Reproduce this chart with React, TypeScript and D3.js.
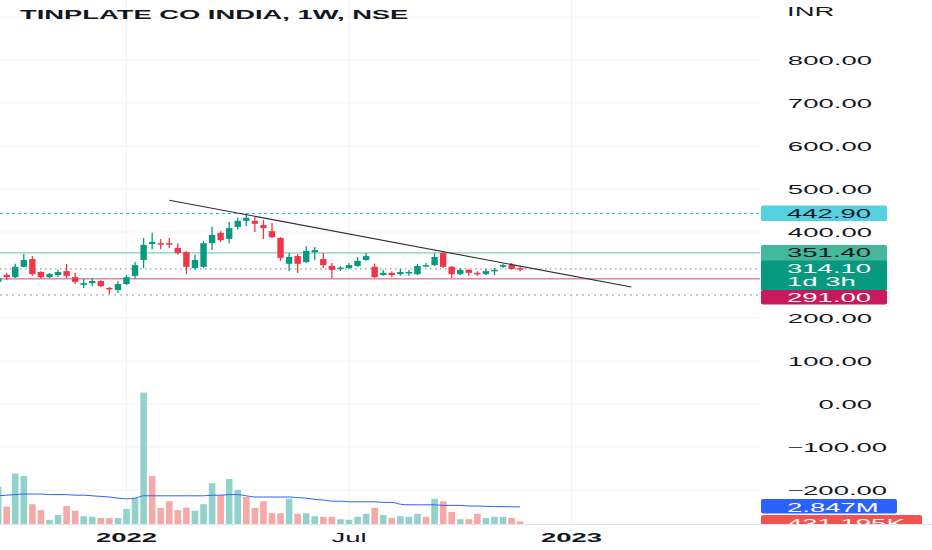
import React from 'react';
import * as d3 from 'd3';

const W = 932;
const H = 550;

// weekly bars, Mon 20 Sep 2021 .. Mon 21 Nov 2022
const weeks = d3.timeMonday.range(new Date(2021, 8, 20), new Date(2022, 10, 22));

const opens = [
  284, 300, 295, 319, 337, 307, 295, 300, 309, 295, 277, 281, 286, 270, 265,
  279, 298, 335, 372, 374, 374, 363, 353, 316, 319, 374, 398, 384, 412, 426,
  426, 416, 402, 386, 326, 344, 330, 353, 337, 321, 315, 316, 321, 335, 319,
  300, 305, 302, 305, 302, 321, 323, 351, 319, 302, 312, 305, 302, 309, 319,
  323, 316,
];
const highs = [
  298, 305, 326, 349, 344, 309, 305, 312, 326, 305, 291, 293, 288, 272, 286,
  300, 330, 386, 398, 384, 386, 374, 356, 347, 379, 412, 402, 423, 433, 442.9,
  435, 428, 421, 388, 351, 349, 367, 365, 351, 328, 321, 328, 342, 351, 326,
  312, 309, 314, 312, 326, 328, 351, 353, 321, 316, 314, 309, 314, 316, 326,
  328, 320,
];
const lows = [
  280, 288, 293, 318, 298, 291, 293, 295, 293, 279, 270, 274, 272, 256, 258,
  277, 291, 316, 360, 360, 363, 347, 302, 312, 316, 358, 377, 374, 405, 414,
  400, 384, 386, 333, 309, 305, 328, 335, 316, 293, 309, 314, 319, 333, 293,
  298, 295, 298, 298, 300, 319, 321, 316, 293, 300, 298, 298, 300, 300, 316,
  312, 309,
];
const closes = [
  293, 295, 319, 335, 302, 295, 302, 307, 298, 284, 281, 286, 274, 267, 279,
  295, 323, 370, 377, 372, 372, 351, 319, 335, 374, 393, 381, 409, 426, 433,
  419, 409, 388, 340, 342, 326, 356, 358, 323, 312, 317, 323, 333, 344, 295,
  305, 300, 307, 307, 321, 323, 342, 319, 302, 312, 305, 302, 309, 312, 323,
  314, 314.1,
];

// volume in millions
const volumes = [
  6.2, 2.9, 8.4, 8.0, 3.3, 2.3, 0.7, 1.5, 3.0, 2.2, 1.3, 1.2, 1.0, 1.0, 1.0,
  2.5, 4.3, 21.9, 8.0, 2.7, 3.8, 2.3, 2.7, 2.2, 3.3, 6.8, 4.8, 7.5, 5.7, 4.5,
  2.7, 3.8, 1.8, 1.8, 4.2, 1.7, 1.8, 1.3, 1.2, 1.2, 0.8, 0.7, 1.2, 1.7, 2.7,
  1.5, 1.0, 1.3, 1.2, 1.7, 1.2, 4.2, 3.8, 2.0, 0.8, 0.8, 1.7, 1.0, 1.2, 1.2,
  1.0, 0.431,
];
const volumeUp = [
  1, 0, 1, 1, 0, 0, 1, 1, 0, 0, 1, 1, 0, 0, 1,
  1, 1, 1, 0, 0, 0, 0, 0, 1, 1, 1, 0, 1, 1, 0,
  0, 0, 0, 0, 1, 0, 1, 1, 0, 0, 1, 1, 1, 1, 0,
  1, 0, 1, 1, 1, 0, 1, 0, 0, 1, 0, 0, 1, 1, 1,
  0, 0,
];
const volumeMA = [
  4.7, 4.8, 4.9, 5.0, 5.0, 5.0, 4.9, 4.9, 4.9, 4.8, 4.8, 4.7, 4.6, 4.5, 4.3,
  4.2, 4.3, 4.7, 4.7, 4.7, 4.7, 4.7, 4.7, 4.7, 4.7, 4.8, 4.8, 4.9, 4.9, 4.7,
  4.5, 4.5, 4.5, 4.5, 4.5, 4.4, 4.3, 4.1, 4.0, 3.8, 3.8, 3.7, 3.7, 3.7, 3.7,
  3.6, 3.6, 3.3, 3.2, 3.2, 3.2, 3.2, 3.1, 3.1, 3.1, 3.0, 3.0, 2.95, 2.9, 2.9,
  2.87, 2.847,
];

const priceTicks = [800, 700, 600, 500, 400, 200, 100, 0, -100, -200];
const gridTicks = [900, 800, 700, 600, 500, 400, 300, 200, 100, 0, -100, -200];
const timeTicks = [
  { date: new Date(2022, 0, 3), label: '2022', bold: true },
  { date: new Date(2022, 6, 4), label: 'Jul', bold: false },
  { date: new Date(2023, 0, 2), label: '2023', bold: true },
];
const trendLine = [
  { date: new Date(2022, 1, 7), price: 474 },
  { date: new Date(2023, 1, 20), price: 272 },
];
const resistance = 442.9;
const midLevel = 351.4;
const lastPrice = 314.1;
const support = 291.0;
const lowDotted = 253.5;

const UP = '#089981';
const DOWN = '#f23645';
const FONT = '"Liberation Sans", Arial, sans-serif';
const SX = 2.2;

function Label({ x, y, text, anchor = 'start', fill = '#131722', bold = false, sx = SX, size = 12.5 }: any) {
  return (
    <text
      transform={`translate(${x},${y}) scale(${sx},1)`}
      textAnchor={anchor}
      fontFamily={FONT}
      fontSize={size}
      fontWeight={bold ? 700 : 400}
      fill={fill}
    >
      {text}
    </text>
  );
}

export default function App() {
  const paneRight = 760;
  const paneBottom = 524;
  const x = d3.scaleTime().domain([new Date(2022, 0, 3), new Date(2023, 0, 2)]).range([126.5, 571.5]);
  const y = d3.scaleLinear().domain([0, 800]).range([404, 60]);
  const yVol = d3.scaleLinear().domain([0, 20]).range([paneBottom, 404]);

  const bodyW = 6.4;
  const volW = 6.6;

  const maLine = d3
    .line<number>()
    .x((_, i) => x(weeks[i]))
    .y((d) => yVol(d))
    .curve(d3.curveMonotoneX)(volumeMA);

  const fmt = (v: number) => (v < 0 ? '\u2212' : '') + d3.format('.2f')(Math.abs(v));

  return (
    <svg width={W} height={H} style={{ position: 'fixed', left: 0, top: 0 }}>
      <defs>
        <clipPath id="pane">
          <rect x={0} y={0} width={W} height={paneBottom} />
        </clipPath>
        <clipPath id="plot">
          <rect x={0} y={0} width={paneRight} height={paneBottom} />
        </clipPath>
      </defs>
      <rect width={W} height={H} fill="#fff" />

      {/* grid */}
      {gridTicks.map((t) => (
        <line key={t} x1={0} x2={paneRight} y1={y(t)} y2={y(t)} stroke="#f0f3fa" />
      ))}
      {timeTicks.map((t) => (
        <line key={t.label} x1={x(t.date)} x2={x(t.date)} y1={0} y2={paneBottom} stroke="#f0f3fa" />
      ))}

      <g clipPath="url(#plot)">
        {/* volume */}
        {volumes.map((v, i) => (
          <rect
            key={i}
            x={x(weeks[i]) - volW / 2}
            y={yVol(v)}
            width={volW}
            height={paneBottom - yVol(v)}
            fill={volumeUp[i] ? '#92d2cc' : '#f7a9a7'}
          />
        ))}
        <path d={maLine || ''} fill="none" stroke="#2962ff" strokeWidth={1} />

        {/* horizontal levels */}
        <line x1={0} x2={paneRight} y1={y(resistance)} y2={y(resistance)} stroke="#22b8d4" strokeDasharray="3 3" />
        <line x1={0} x2={paneRight} y1={y(midLevel)} y2={y(midLevel)} stroke="#5cc4a6" />
        <line x1={0} x2={paneRight} y1={y(support)} y2={y(support)} stroke="#d94677" />
        <line x1={0} x2={paneRight} y1={y(lastPrice)} y2={y(lastPrice)} stroke="#6f8580" strokeDasharray="1.5 3.5" />
        <line x1={0} x2={paneRight} y1={y(lowDotted)} y2={y(lowDotted)} stroke="#9598a1" strokeDasharray="2 4" />

        {/* candles */}
        {weeks.map((d, i) => {
          const up = closes[i] >= opens[i];
          const c = up ? UP : DOWN;
          const cx = x(d);
          const top = y(Math.max(opens[i], closes[i]));
          const bot = y(Math.min(opens[i], closes[i]));
          return (
            <g key={i}>
              <line x1={cx} x2={cx} y1={y(highs[i])} y2={y(lows[i])} stroke={c} strokeWidth={1.3} />
              <rect x={cx - bodyW / 2} y={top} width={bodyW} height={Math.max(1.5, bot - top)} fill={c} />
            </g>
          );
        })}

        {/* trend line */}
        <line
          x1={x(trendLine[0].date)}
          y1={y(trendLine[0].price)}
          x2={x(trendLine[1].date)}
          y2={y(trendLine[1].price)}
          stroke="#2a2e39"
          strokeWidth={1.1}
        />
      </g>

      {/* title */}
      <Label x={20} y={19} text="TINPLATE CO INDIA, 1W, NSE" bold sx={2.28} size={12} />

      {/* price scale */}
      <Label x={787} y={16} text="INR" />
      {priceTicks.map((t) =>
        t < 0 ? (
          <Label key={t} x={787} y={y(t) + 4.5} text={fmt(t)} />
        ) : (
          <Label key={t} x={872} y={y(t) + 4.5} text={fmt(t)} anchor="end" />
        )
      )}

      {/* price label boxes */}
      <rect x={761} y={205.5} width={126} height={15.5} rx={2} fill="#56cfe1" />
      <Label x={787} y={217.5} text={d3.format('.2f')(resistance)} />
      <rect x={761} y={245} width={126} height={16} rx={2} fill="#45b79c" />
      <Label x={787} y={257} text={d3.format('.2f')(midLevel)} />
      <rect x={761} y={260.5} width={126} height={29.5} fill="#089981" />
      <Label x={787} y={272.5} text={d3.format('.2f')(lastPrice)} fill="#fff" />
      <Label x={787} y={285.5} text="1d 3h" fill="#fff" />
      <rect x={761} y={290} width={126} height={14.5} rx={2} fill="#c8195c" />
      <Label x={787} y={301.5} text={d3.format('.2f')(support)} fill="#fff" />

      {/* volume label boxes */}
      <g clipPath="url(#pane)">
        <rect x={761} y={499} width={136} height={14.5} rx={2} fill="#2962ff" />
        <Label x={787} y={511.5} text="2.847M" fill="#fff" />
        <rect x={761} y={515} width={161} height={15} rx={2} fill="#f05350" />
        <Label x={787} y={527.5} text="431.195K" fill="#fff" />
      </g>

      {/* time axis */}
      <rect x={0} y={paneBottom} width={W} height={H - paneBottom} fill="#fff" />
      <line x1={0} x2={W} y1={paneBottom + 0.5} y2={paneBottom + 0.5} stroke="#e0e3eb" />
      {timeTicks.map((t) => (
        <Label key={t.label} x={x(t.date)} y={542} text={t.label} anchor="middle" bold={t.bold} />
      ))}
    </svg>
  );
}
